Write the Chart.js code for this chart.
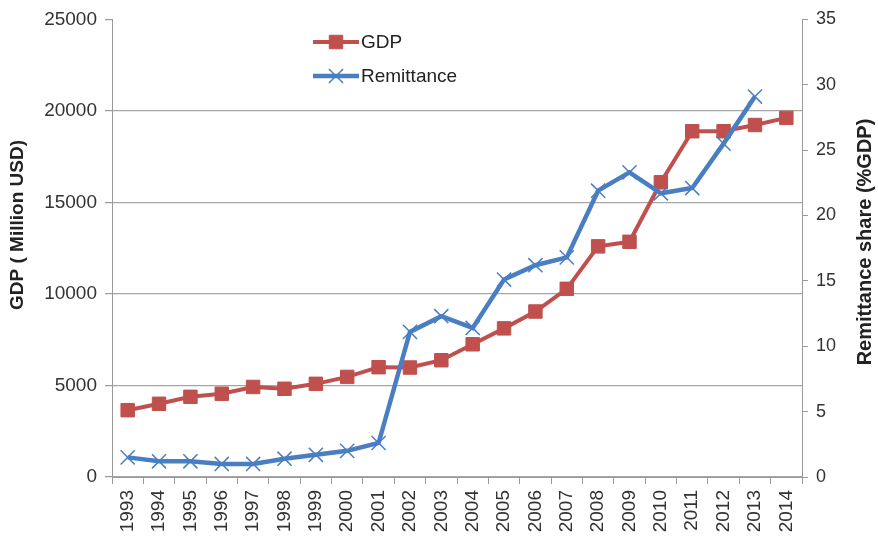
<!DOCTYPE html>
<html>
<head>
<meta charset="utf-8">
<title>GDP and Remittance</title>
<script src="https://cdn.jsdelivr.net/npm/chart.js@4/dist/chart.umd.min.js"></script>
<style>
  html, body { margin: 0; padding: 0; background: #fff; }
  #chart { display: block; }
</style>
</head>
<body>
<canvas id="chart" width="878" height="538"></canvas>
<script>
// Chart data
const years = ["1993", "1994", "1995", "1996", "1997", "1998", "1999", "2000", "2001", "2002", "2003",
  "2004", "2005", "2006", "2007", "2008", "2009", "2010", "2011", "2012", "2013", "2014"];
const gdp = [3650, 4000, 4380, 4550, 4920, 4820, 5090, 5470, 6000, 5980, 6380,
  7250, 8120, 9040, 10280, 12600, 12850, 16100, 18890, 18890, 19230, 19620];
const remittance = [1.5, 1.2, 1.2, 1.0, 1.0, 1.4, 1.7, 2.0, 2.6, 11.1, 12.3,
  11.4, 15.1, 16.2, 16.8, 21.9, 23.3, 21.7, 22.1, 25.5, 29.1, null];
const gdpTicks = [0, 5000, 10000, 15000, 20000, 25000];
const remitTicks = [0, 5, 10, 15, 20, 25, 30, 35];

const RED = "#C0504D";
const BLUE = "#4A7EC2";
const AXIS = "#9a9a9a";
const TEXT = "#333333";
const FONT = "'Liberation Sans', Arial, sans-serif";

// Legend drawn inside the plot area, Excel style (line + marker),
// plus both axis titles reading bottom-to-top
const extras = {
  id: "extras",
  afterDraw(chart) {
    const ctx = chart.ctx;
    const items = [
      { ds: chart.data.datasets[1], y: 42 },
      { ds: chart.data.datasets[0], y: 76 },
    ];
    ctx.save();
    items.forEach((item) => {
      const ds = item.ds;
      ctx.strokeStyle = ds.borderColor;
      ctx.lineWidth = ds.borderWidth;
      ctx.beginPath();
      ctx.moveTo(313, item.y);
      ctx.lineTo(359, item.y);
      ctx.stroke();
      ctx.fillStyle = ds.pointBackgroundColor;
      ctx.strokeStyle = ds.pointBorderColor;
      ctx.lineWidth = ds.pointBorderWidth;
      Chart.helpers.drawPoint(ctx, {
        pointStyle: ds.pointStyle,
        rotation: 0,
        radius: ds.pointRadius,
        borderWidth: ds.pointBorderWidth,
      }, 336, item.y);
      ctx.fillStyle = "#222";
      ctx.font = "19px " + FONT;
      ctx.textBaseline = "middle";
      ctx.textAlign = "left";
      ctx.fillText(ds.label, 361, item.y + 1);
    });

    ctx.fillStyle = "#222";
    ctx.textAlign = "center";
    ctx.textBaseline = "middle";
    ctx.font = "bold 19px " + FONT;
    ctx.save();
    ctx.translate(18, 225);
    ctx.rotate(-Math.PI / 2);
    ctx.fillText("GDP ( Million USD)", 0, 0);
    ctx.restore();

    ctx.font = "bold 20px " + FONT;
    ctx.save();
    ctx.translate(865, 242);
    ctx.rotate(-Math.PI / 2);
    ctx.fillText("Remittance share (%GDP)", 0, 0);
    ctx.restore();
    ctx.restore();
  },
};

new Chart(document.getElementById("chart"), {
  type: "line",
  data: {
    labels: years,
    datasets: [
      {
        label: "Remittance",
        data: remittance,
        yAxisID: "yRight",
        borderColor: BLUE,
        borderWidth: 4.5,
        pointStyle: "crossRot",
        pointRadius: 10,
        pointBorderWidth: 1.5,
        pointBorderColor: BLUE,
        pointBackgroundColor: BLUE,
        tension: 0,
        order: 0,
      },
      {
        label: "GDP",
        data: gdp,
        yAxisID: "yLeft",
        borderColor: RED,
        borderWidth: 4,
        pointStyle: "rect",
        pointRadius: 9.5,
        pointBorderWidth: 1,
        pointBorderColor: RED,
        pointBackgroundColor: RED,
        tension: 0,
        order: 1,
      },
    ],
  },
  options: {
    responsive: false,
    animation: false,
    devicePixelRatio: 1,
    layout: { padding: { top: 15, left: 0, right: 0, bottom: 0 } },
    plugins: {
      legend: { display: false },
      tooltip: { enabled: false },
    },
    scales: {
      x: {
        offset: true,
        grid: {
          offset: true,
          drawOnChartArea: false,
          tickLength: 7,
          tickColor: AXIS,
        },
        border: { color: AXIS, width: 1 },
        ticks: {
          color: TEXT,
          font: { family: FONT, size: 19 },
          minRotation: 90,
          maxRotation: 90,
          autoSkip: false,
          padding: 6,
        },
        afterFit(scale) { scale.height = 61; },
      },
      yLeft: {
        position: "left",
        min: 0,
        max: 25000,
        afterBuildTicks(scale) { scale.ticks = gdpTicks.map((v) => ({ value: v })); },
        grid: {
          color: (c) => (c.tick && c.tick.value === 25000 ? "rgba(0,0,0,0)" : "#a6a6a6"),
          tickColor: AXIS,
          tickLength: 7,
          lineWidth: 1.2,
        },
        border: { color: AXIS, width: 1 },
        ticks: {
          color: TEXT,
          font: { family: FONT, size: 19 },
          padding: 8,
          callback: (v) => String(v),
        },
        afterFit(scale) { scale.width = 112; },
      },
      yRight: {
        position: "right",
        min: 0,
        max: 35,
        afterBuildTicks(scale) { scale.ticks = remitTicks.map((v) => ({ value: v })); },
        grid: {
          drawOnChartArea: false,
          tickColor: AXIS,
          tickLength: 6,
        },
        border: { color: AXIS, width: 1 },
        ticks: {
          color: TEXT,
          font: { family: FONT, size: 18 },
          padding: 8,
          callback: (v) => String(v),
        },
        afterFit(scale) { scale.width = 76; },
      },
    },
  },
  plugins: [extras],
});
</script>
</body>
</html>
